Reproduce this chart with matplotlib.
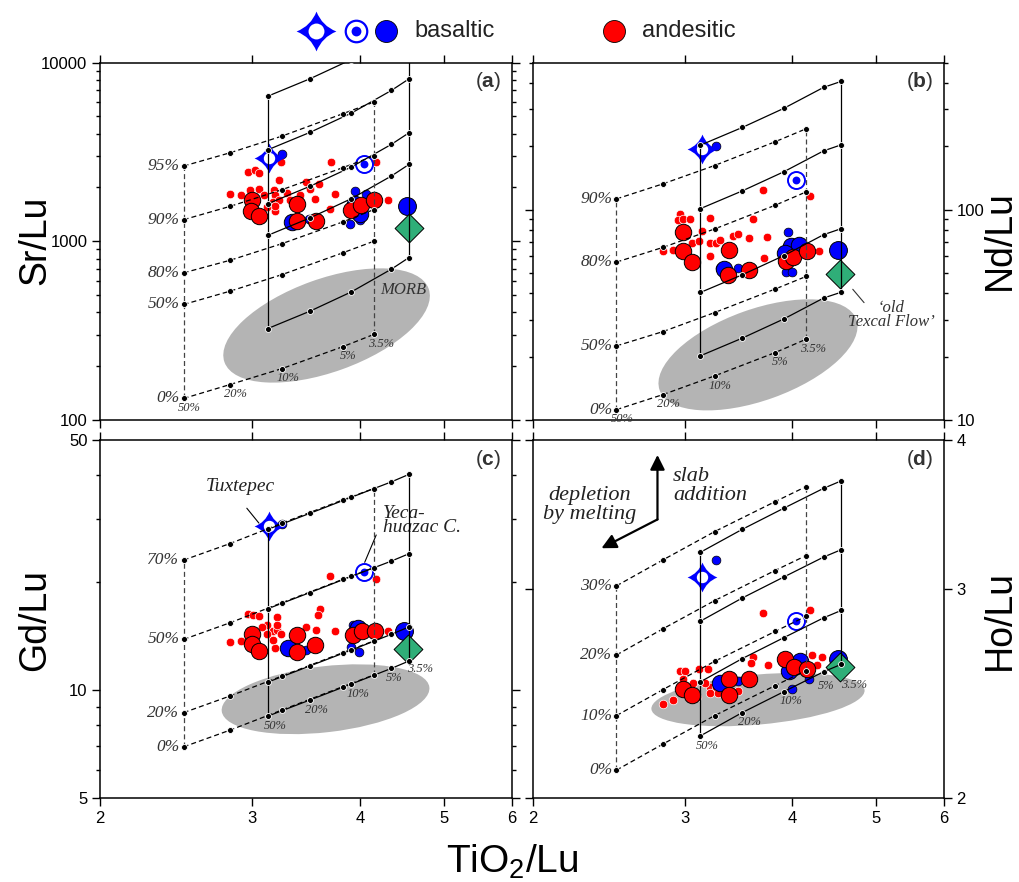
import numpy as np
import matplotlib
matplotlib.use('Agg')
import matplotlib.pyplot as plt
from matplotlib.path import Path
from matplotlib.patches import Ellipse
from matplotlib.transforms import ScaledTranslation
from matplotlib.ticker import FixedLocator, NullFormatter, NullLocator, LogLocator, FuncFormatter

plt.rcParams['font.family'] = ['Liberation Sans', 'DejaVu Sans']
plt.rcParams['mathtext.fontset'] = 'custom'
plt.rcParams['mathtext.rm'] = 'Liberation Sans'
plt.rcParams['mathtext.bf'] = 'Liberation Sans:bold'
SERIF = ['Liberation Serif', 'DejaVu Serif']
GREEN = '#2fae78'
MORB_GREY = '#b4b4b4'

# ---- mixing / melting model grid -------------------------------------
melt_labels = ['50%', '20%', '10%', '5%', '3.5%']
x_dm = [2.50, 2.83, 3.25, 3.82, 4.15]      # dashed source, TiO2/Lu
x_em = [3.13, 3.50, 3.91, 4.35, 4.56]      # solid source, TiO2/Lu

sr_levels = ['0%', '50%', '80%', '90%', '95%']
sr_dm = [[132, 158, 194, 257, 301],
         [443, 526, 651, 861, 1000],
         [666, 783, 970, 1282, 1503],
         [1321, 1568, 1944, 2579, 2998],
         [2636, 3128, 3877, 5167, 6002]]
sr_em = [[325, 406, 521, 698, 811],
         [1080, 1350, 1731, 2317, 2692],
         [1623, 2029, 2602, 3484, 4046],
         [3251, 4063, 5212, 6977, 8106],
         [6486, 8106, 10394, 13910, 16165]]

nd_levels = ['0%', '50%', '80%', '90%']
nd_dm = [[11.2, 13.2, 16.2, 20.9, 24.2],
         [22.5, 26.3, 32.4, 41.9, 48.1],
         [56.3, 66.1, 80.9, 104.8, 121.3],
         [112.4, 132.5, 162.0, 210.0, 242.1]]
nd_em = [[20.2, 24.5, 30.2, 38.0, 40.5],
         [40.4, 49.0, 60.4, 76.0, 81.2],
         [101.1, 122.7, 151.2, 190.2, 203.2],
         [202.5, 245.7, 302.7, 381.0, 406.9]]

gd_levels = ['0%', '20%', '50%', '70%']
gd_dm = [[6.95, 7.74, 8.81, 10.23, 11.03],
         [8.66, 9.64, 10.96, 12.73, 13.73],
         [13.87, 15.44, 17.56, 20.4, 22.0],
         [23.1, 25.7, 29.3, 34.0, 36.6]]
gd_em = [[8.47, 9.39, 10.41, 11.51, 12.07],
         [10.54, 11.69, 12.95, 14.33, 15.03],
         [16.9, 18.74, 20.8, 22.95, 24.07],
         [28.15, 31.2, 34.6, 38.2, 40.1]]

ho_levels = ['0%', '10%', '20%', '30%']
ho_dm = [[2.111, 2.220, 2.346, 2.486, 2.560],
         [2.346, 2.467, 2.606, 2.761, 2.843],
         [2.638, 2.775, 2.931, 3.107, 3.198],
         [3.016, 3.171, 3.350, 3.550, 3.655]]
ho_em = [[2.256, 2.360, 2.457, 2.554, 2.591],
         [2.505, 2.620, 2.728, 2.835, 2.876],
         [2.817, 2.946, 3.068, 3.189, 3.235],
         [3.219, 3.365, 3.505, 3.643, 3.696]]

# ---- samples (TiO2/Lu, ratio) ---------------------------------------
sr_and_small = [(2.97, 2440), (3.02, 2520), (3.06, 2420), (3.24, 2780), (3.22, 2210),
                (2.83, 1830), (2.91, 1810), (2.98, 1940), (3.06, 1970), (3.10, 1810),
                (3.18, 1930), (3.19, 1810), (3.17, 1660), (3.22, 1700), (3.29, 1860),
                (3.32, 1700), (3.19, 1480), (3.19, 1570), (3.46, 2150), (3.59, 2080),
                (3.55, 1730), (3.74, 1830), (3.70, 2780), (4.18, 2780), (4.31, 1710),
                (3.69, 1510), (3.41, 1810), (3.50, 1970), (3.12, 1555)]
sr_and_large = [(3.00, 1695), (2.99, 1470), (3.06, 1385), (3.38, 1624), (3.38, 1300),
                (3.56, 1300), (3.91, 1490), (4.01, 1590), (4.15, 1695)]
sr_bas_small = [(3.95, 1912), (4.07, 1830), (3.90, 1245), (4.00, 1310), (3.49, 1325)]
sr_bas_large = [(3.34, 1285), (3.95, 1624), (4.00, 1428)]

nd_and_small = [(2.96, 95.7), (2.95, 89.6), (2.99, 90.2), (3.04, 90.2), (3.21, 91.3),
                (3.60, 90.2), (2.83, 63.3), (2.91, 64.5), (3.14, 78.8), (3.06, 69.4),
                (3.12, 70.7), (3.21, 69.4), (3.26, 69.4), (3.30, 72.0), (3.41, 75.2),
                (3.46, 76.6), (3.56, 73.3), (3.74, 73.7), (3.21, 60.4), (3.71, 58.9),
                (4.30, 63.8), (4.21, 63.3), (3.70, 124.5), (4.19, 116)]
nd_and_large = [(2.99, 78.3), (2.99, 63.3), (3.06, 56.3), (3.38, 64.5), (3.37, 49.0),
                (3.56, 51.8), (3.93, 56.8), (4.01, 59.5), (4.16, 63.3)]
nd_bas_small = [(3.95, 78.3), (3.93, 50.3), (4.00, 50.3), (3.30, 52.8), (3.46, 52.8)]
nd_bas_large = [(3.99, 66.9), (4.07, 68.1), (3.92, 62.2), (3.33, 52.2)]

gd_and_small = [(2.97, 16.3), (3.01, 16.2), (3.06, 16.1), (3.21, 16.0), (3.60, 16.9),
                (3.58, 16.2), (2.83, 13.6), (2.91, 13.7), (3.12, 15.2), (3.17, 14.6),
                (3.21, 14.7), (3.12, 14.4), (3.24, 14.4), (3.21, 15.2), (3.46, 15.0),
                (3.56, 14.7), (3.74, 14.6), (3.19, 13.1), (4.31, 14.6), (3.08, 15.05),
                (3.17, 13.8), (3.69, 20.8), (4.18, 20.4)]
gd_and_large = [(3.00, 14.4), (3.00, 13.5), (3.06, 12.9), (3.38, 14.3), (3.38, 12.8),
                (3.55, 13.4), (3.93, 14.3), (4.02, 14.6), (4.17, 14.6)]
gd_bas_small = [(3.93, 15.2), (3.91, 13.2), (3.99, 12.8), (3.46, 12.95)]
gd_bas_large = [(3.30, 13.1), (3.98, 14.9)]

ho_and_small = [(2.96, 2.56), (3.00, 2.56), (3.12, 2.57), (3.19, 2.57), (3.60, 2.63),
                (3.58, 2.60), (3.75, 2.59), (2.83, 2.40), (2.91, 2.42), (3.07, 2.50),
                (3.21, 2.48), (3.26, 2.48), (3.21, 2.45), (3.28, 2.45), (3.46, 2.46),
                (4.22, 2.64), (4.33, 2.63), (4.27, 2.59), (3.17, 2.50), (2.99, 2.52),
                (3.10, 2.43), (3.70, 2.86), (4.19, 2.88)]
ho_and_large = [(2.99, 2.47), (3.06, 2.44), (3.38, 2.52), (3.38, 2.44), (3.56, 2.52),
                (3.92, 2.62), (4.02, 2.58), (4.16, 2.57)]
ho_bas_small = [(4.00, 2.47), (4.18, 2.52), (3.46, 2.51)]
ho_bas_large = [(4.08, 2.61), (3.97, 2.56), (3.30, 2.50)]

# special samples, one value per panel (a, b, c, d)
tuxtepec = [(3.14, 2930), (3.14, 195), (3.14, 28.8), (3.14, 3.07)]
tux_near = [(3.25, 3090), (3.26, 200), (3.25, 29.1), (3.26, 3.17)]
yecahuazac = [(4.04, 2720), (4.04, 139), (4.04, 21.4), (4.04, 2.82)]
bas_big = [(4.53, 1576), (4.52, 64.5), (4.50, 14.6), (4.52, 2.62)]
texcal = [(4.56, 1187), (4.54, 49.4), (4.55, 13.0), (4.54, 2.58)]

# MORB field: centre (data), width/height (inches), tilt (deg)
morb_centre = [(3.66, 338), (3.65, 20.4), (3.65, 9.44), (3.65, 2.42)]
morb_size = [(2.17, 0.93, 19.8), (2.09, 0.91, 19.8), (2.09, 0.66, 6.6), (2.14, 0.50, 5.1)]

# four-point star marker
c = 0.28
star_path = Path([(0, 1), (c, c), (1, 0), (c, -c), (0, -1), (-c, -c), (-1, 0), (-c, c), (0, 1), (0, 1)],
                 [Path.MOVETO] + [Path.CURVE3] * 8 + [Path.CLOSEPOLY])

fig = plt.figure(figsize=(10.2, 8.82), dpi=100)
ax_a = fig.add_axes([0.0980, 0.5238, 0.4039, 0.4053])
ax_b = fig.add_axes([0.5225, 0.5238, 0.4029, 0.4053])
ax_c = fig.add_axes([0.0980, 0.0952, 0.4039, 0.4059])
ax_d = fig.add_axes([0.5225, 0.0952, 0.4029, 0.4059])


def setup(ax, ylim, yticks, left, bottom, minor=True):
    ax.set_xscale('log')
    ax.set_yscale('log')
    ax.set_xlim(2, 6)
    ax.set_ylim(*ylim)
    ax.xaxis.set_major_locator(FixedLocator([2, 3, 4, 5, 6]))
    ax.xaxis.set_minor_locator(NullLocator())
    ax.xaxis.set_major_formatter(FuncFormatter(lambda v, p: f'{v:g}'))
    ax.yaxis.set_major_locator(FixedLocator(yticks))
    ax.yaxis.set_major_formatter(FuncFormatter(lambda v, p: f'{v:g}'))
    if minor:
        ax.yaxis.set_minor_locator(LogLocator(base=10, subs=np.arange(2, 10)))
    else:
        ax.yaxis.set_minor_locator(NullLocator())
    ax.yaxis.set_minor_formatter(NullFormatter())
    ax.tick_params(which='both', direction='out', top=True, right=True, width=1.0,
                   labelsize=12, labelleft=left, labelright=not left,
                   labelbottom=bottom, labeltop=False)
    ax.tick_params(which='major', length=5.5)
    ax.tick_params(which='minor', length=3)
    for s in ax.spines.values():
        s.set_linewidth(1.1)


def morb(ax, i):
    xc, yc = morb_centre[i]
    w, h, ang = morb_size[i]
    tr = fig.dpi_scale_trans + ScaledTranslation(xc, yc, ax.transData)
    ax.add_patch(Ellipse((0, 0), w, h, angle=ang, transform=tr,
                         facecolor=MORB_GREY, edgecolor='none', zorder=1))


def grid(ax, levels, y_dm, y_em, label_em, offs):
    dash = (0, (4, 2.5))
    for yy in y_dm:
        ax.plot(x_dm, yy, color='k', lw=0.9, ls=dash, zorder=6)
    for yy in y_em:
        ax.plot(x_em, yy, color='k', lw=0.9, zorder=6)
    for i in (0, -1):
        ax.plot([x_dm[i]] * 2, [y_dm[0][i], y_dm[-1][i]], color='#444', lw=0.9, ls=dash, zorder=6)
        ax.plot([x_em[i]] * 2, [y_em[0][i], y_em[-1][i]], color='k', lw=0.9, zorder=6)
    for yy in y_dm:
        ax.plot(x_dm, yy, ls='none', marker='o', ms=4.3, mfc='k', mec='white', mew=0.6, zorder=7)
    for yy in y_em:
        ax.plot(x_em, yy, ls='none', marker='o', ms=4.3, mfc='k', mec='white', mew=0.6, zorder=7)
    for lab, yy in zip(levels, y_dm):
        ax.annotate(lab, (x_dm[0], yy[0]), xytext=(-3, 0), textcoords='offset points',
                    ha='right', va='center', fontsize=12.5, style='italic',
                    family=SERIF, color='#333')
    bx = x_em if label_em else x_dm
    by = y_em[0] if label_em else y_dm[0]
    for lab, x, y, o in zip(melt_labels, bx, by, offs):
        ax.annotate(lab, (x, y), xytext=o, textcoords='offset points',
                    ha='center', va='center', fontsize=9, style='italic',
                    family=SERIF, color='#333', zorder=8)


def scat(ax, pts, **kw):
    xs, ys = zip(*pts)
    ax.scatter(xs, ys, **kw)


def samples(ax, i, and_small, and_large, bas_small, bas_large):
    scat(ax, and_small, s=38, c='red', edgecolors='white', linewidths=0.5, zorder=3)
    scat(ax, bas_small + [tux_near[i]], s=40, c='blue', edgecolors='k', linewidths=0.5, zorder=3.5)
    scat(ax, bas_large, s=140, c='blue', edgecolors='k', linewidths=0.7, zorder=4)
    scat(ax, and_large, s=140, c='red', edgecolors='k', linewidths=0.7, zorder=4.5)
    scat(ax, [bas_big[i]], s=165, c='blue', edgecolors='k', linewidths=0.7, zorder=4.5)
    scat(ax, [texcal[i]], s=215, marker='D', c=GREEN, edgecolors='k', linewidths=0.7, zorder=4.5)
    scat(ax, [tuxtepec[i]], s=460, marker=star_path, c='blue', linewidths=0, zorder=5)
    scat(ax, [tuxtepec[i]], s=85, c='white', edgecolors='blue', linewidths=1.0, zorder=5.1)
    scat(ax, [yecahuazac[i]], s=150, c='white', edgecolors='blue', linewidths=1.4, zorder=5)
    scat(ax, [yecahuazac[i]], s=32, c='blue', linewidths=0, zorder=5.1)


offs_ab = [(4, -7), (4, -7), (4, -7), (4, -7), (5, -7)]
offs_c = [(5, -7), (5, -7), (5, -7), (2, -7), (8, -6)]
offs_d = [(5, -7), (5, -7), (5, -7), (2, -10), (9, -15)]

panels = [
    (ax_a, (100, 10000), [100, 1000, 10000], True, False, sr_levels, sr_dm, sr_em, False,
     sr_and_small, sr_and_large, sr_bas_small, sr_bas_large, 'a', offs_ab),
    (ax_b, (10, 500), [10, 100], False, False, nd_levels, nd_dm, nd_em, False,
     nd_and_small, nd_and_large, nd_bas_small, nd_bas_large, 'b', offs_ab),
    (ax_c, (5, 50), [5, 10, 50], True, True, gd_levels, gd_dm, gd_em, True,
     gd_and_small, gd_and_large, gd_bas_small, gd_bas_large, 'c', offs_c),
    (ax_d, (2, 4), [2, 3, 4], False, True, ho_levels, ho_dm, ho_em, True,
     ho_and_small, ho_and_large, ho_bas_small, ho_bas_large, 'd', offs_d),
]

for i, (ax, ylim, yt, left, bottom, lev, ydm, yem, lab_em, asm, alg, bsm, blg, tag, offs) in enumerate(panels):
    setup(ax, ylim, yt, left, bottom, minor=(tag != 'd'))
    morb(ax, i)
    grid(ax, lev, ydm, yem, lab_em, offs)
    samples(ax, i, asm, alg, bsm, blg)
    ax.text(0.975, 0.946, r'($\mathbf{%s}$)' % tag, transform=ax.transAxes,
            ha='right', va='center', fontsize=15, color='#333')

# annotations
ax_a.text(4.49, 537, 'MORB', ha='center', va='center', fontsize=12,
          style='italic', family=SERIF, color='#333', zorder=8)

ax_b.text(5.21, 31.5, '\u2018old\nTexcal Flow\u2019', ha='center', va='center',
          fontsize=12, style='italic', family=SERIF, color='#333', linespacing=0.85)
ax_b.annotate('', xy=(4.68, 42.8), xytext=(4.87, 35.3),
              arrowprops=dict(arrowstyle='-', lw=0.8, color='#333'))

ax_c.text(2.91, 37.2, 'Tuxtepec', ha='center', va='center', fontsize=14,
          style='italic', family=SERIF, color='#222')
ax_c.annotate('', xy=(3.07, 28.9), xytext=(2.945, 32.7),
              arrowprops=dict(arrowstyle='-', lw=0.8, color='k'))
ax_c.text(4.25, 29.8, 'Yeca-\nhuazac C.', ha='left', va='center', fontsize=14,
          style='italic', family=SERIF, color='#222', linespacing=0.8)
ax_c.annotate('', xy=(4.04, 22.4), xytext=(4.19, 27.6),
              arrowprops=dict(arrowstyle='-', lw=0.8, color='k'))

ax_d.annotate('', xy=(2.79, 3.886), xytext=(2.79, 3.43),
              arrowprops=dict(arrowstyle='-|>', lw=1.6, color='k', mutation_scale=22,
                              shrinkA=0, shrinkB=0))
ax_d.annotate('', xy=(2.402, 3.244), xytext=(2.79, 3.43),
              arrowprops=dict(arrowstyle='-|>', lw=1.6, color='k', mutation_scale=22,
                              shrinkA=0, shrinkB=0))
ax_d.text(2.329, 3.528, 'depletion\nby melting', ha='center', va='center', fontsize=16,
          style='italic', family=SERIF, color='#222', linespacing=1.0)
ax_d.text(2.91, 3.659, 'slab\naddition', ha='left', va='center', fontsize=16,
          style='italic', family=SERIF, color='#222', linespacing=1.0)

# axis titles
fig.text(35 / 1020, 1 - 240 / 882, 'Sr/Lu', rotation=90, ha='center', va='center', fontsize=27)
fig.text(35 / 1020, 1 - 620 / 882, 'Gd/Lu', rotation=90, ha='center', va='center', fontsize=27)
fig.text(1000 / 1020, 1 - 240 / 882, 'Nd/Lu', rotation=90, ha='center', va='center', fontsize=27)
fig.text(1000 / 1020, 1 - 620 / 882, 'Ho/Lu', rotation=90, ha='center', va='center', fontsize=27)
fig.text(512 / 1020, 1 - 862 / 882, 'TiO$_2$/Lu', ha='center', va='center', fontsize=28)

# legend row
lg = fig.add_axes([0, 0.92, 1, 0.08])
lg.set_axis_off()
lg.set_xlim(0, 1)
lg.set_ylim(0, 1)
yl = 0.56
lg.scatter([316 / 1020], [yl], s=820, marker=star_path, c='blue', linewidths=0)
lg.scatter([316 / 1020], [yl], s=160, c='white', edgecolors='blue', linewidths=1.2)
lg.scatter([356 / 1020], [yl], s=240, c='white', edgecolors='blue', linewidths=1.6)
lg.scatter([356 / 1020], [yl], s=50, c='blue', linewidths=0)
lg.scatter([386 / 1020], [yl], s=250, c='blue', edgecolors='k', linewidths=0.6)
lg.text(414 / 1020, yl, 'basaltic', ha='left', va='center', fontsize=17, color='#222')
lg.scatter([614 / 1020], [yl], s=250, c='red', edgecolors='k', linewidths=0.6)
lg.text(642 / 1020, yl, 'andesitic', ha='left', va='center', fontsize=17, color='#222')

fig.savefig('out.png', dpi=100)
